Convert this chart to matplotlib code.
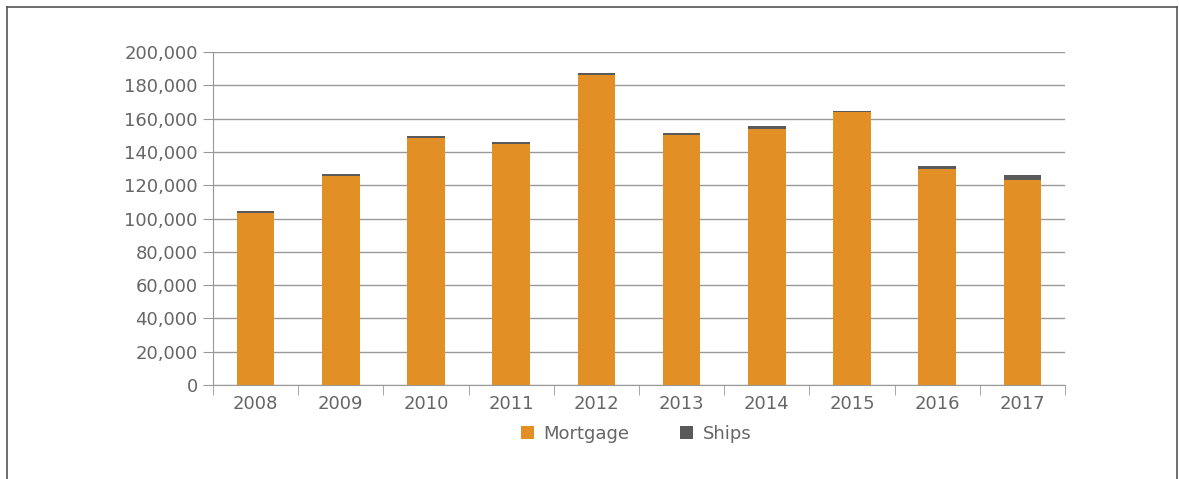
import matplotlib
matplotlib.use("Agg")
import matplotlib.pyplot as plt
from matplotlib.lines import Line2D
from matplotlib.ticker import FuncFormatter, FixedLocator
import numpy as np

plt.rcParams["font.family"] = ["DejaVu Sans"]

years = ["2008", "2009", "2010", "2011", "2012", "2013", "2014", "2015", "2016", "2017"]
mortgage = [103300, 125600, 148500, 144800, 186300, 150200, 154000, 163700, 130000, 123300]
ships = [1300, 1300, 1300, 1300, 1300, 1300, 1300, 1100, 1300, 2600]

W, H = 1179, 479
fig = plt.figure(figsize=(W / 100, H / 100), dpi=100)
fig.patch.set_facecolor("white")
ax = fig.add_axes([213 / W, 1 - 385 / H, (1065 - 213) / W, (385 - 52) / H])

fs = 13
text_color = "#666666"
grid_color = "#999999"
x = np.arange(len(years))
bw = 0.44
ax.bar(x, mortgage, width=bw, color="#E29026", label="Mortgage", zorder=3)
ax.bar(x, ships, width=bw, bottom=mortgage, color="#5A5A5A", label="Ships", zorder=3)

ax.set_xlim(-0.5, len(years) - 0.5)
ax.set_ylim(0, 200000)
ax.set_yticks(np.arange(0, 200001, 20000))
ax.yaxis.set_major_formatter(FuncFormatter(lambda v, p: f"{int(v):,}"))
ax.grid(axis="y", color=grid_color, linewidth=1, zorder=0)
ax.set_axisbelow(True)

ax.set_xticks(x)
ax.set_xticklabels(years)
ax.xaxis.set_minor_locator(FixedLocator(np.arange(-0.5, len(years), 1.0)))
ax.tick_params(axis="x", which="major", length=0, pad=7, labelsize=fs, labelcolor=text_color)
ax.tick_params(axis="x", which="minor", length=7, color=grid_color, direction="out")
ax.tick_params(axis="y", length=7, color=grid_color, pad=4, labelsize=fs, labelcolor=text_color)

for s in ["top", "right"]:
    ax.spines[s].set_visible(False)
ax.spines["left"].set_color(grid_color)
ax.spines["bottom"].set_color(grid_color)

leg = fig.legend(loc="center", bbox_to_anchor=(636 / W, 1 - 434 / H), ncol=2, frameon=False,
                 fontsize=fs, handlelength=0.75, handleheight=0.75, columnspacing=2.8,
                 handletextpad=0.5)
for t in leg.get_texts():
    t.set_color(text_color)

# outer frame
fc = "#555555"
fig.add_artist(Line2D([7 / W, 7 / W], [0, 1 - 7 / H], color=fc, lw=1.2, transform=fig.transFigure))
fig.add_artist(Line2D([7 / W, 1177 / W], [1 - 7 / H, 1 - 7 / H], color=fc, lw=1.2, transform=fig.transFigure))
fig.add_artist(Line2D([1177 / W, 1177 / W], [0, 1 - 7 / H], color=fc, lw=1.2, transform=fig.transFigure))

fig.savefig("out.png", dpi=100)
